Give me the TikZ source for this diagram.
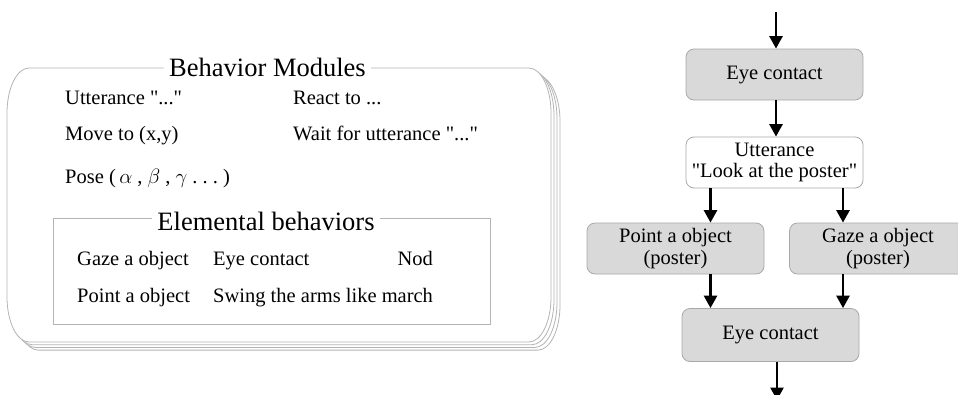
\documentclass[tikz,border=0pt]{standalone}
\usepackage{fontspec}
\setmainfont{Liberation Serif}
\usetikzlibrary{arrows.meta}
\definecolor{boxgray}{HTML}{D9D9D9}
\definecolor{edgegray}{HTML}{A8A8A8}
\definecolor{linegray}{HTML}{B4B4B4}
\newcommand{\dq}{\textquotedbl}
\begin{document}
\begin{tikzpicture}[x=1pt,y=-1pt,
  body/.style={font=\fontsize{20.5}{24}\selectfont, inner sep=0pt},
  boxtitle/.style={font=\fontsize{26.5}{30}\selectfont, fill=white, inner xsep=5pt, inner ysep=2pt},
  flowbox/.style={draw=edgegray, line width=0.8pt, rounded corners=8pt, fill=boxgray,
    minimum width=177pt, minimum height=51pt, align=center,
    font=\fontsize{20.5}{21.5}\selectfont, inner sep=0pt},
  plainbox/.style={flowbox, fill=white},
  flow/.style={line width=2.6pt, -{Triangle[width=13pt,length=12.5pt]}},
  stack/.style={draw=linegray, line width=0.8pt, fill=white},
  inner/.style={draw=linegray, line width=0.8pt},
]
\useasboundingbox (0,0) rectangle (958,394);
\clip (0,0) rectangle (958,394);

% stacked rounded panel (three copies behind, front last)
\foreach \k in {3,2,1,0}{
  \draw[stack, shift={(3*\k,2.7*\k)}]
    (29,68) -- (529,68)
    .. controls (541.15,68) and (551,88.15) .. (551,113)
    -- (551,297)
    .. controls (551,321.85) and (541.15,342) .. (529,342)
    -- (29,342)
    .. controls (16.85,342) and (7,321.85) .. (7,297)
    -- (7,113)
    .. controls (7,88.15) and (16.85,68) .. (29,68) -- cycle;
}
\node[boxtitle, anchor=base] (bm) at (267.5,76) {Behavior Modules};

\node[body, anchor=base west] (m1) at (65,104) {Utterance \dq...\dq};
\node[body, anchor=base west] (m2) at (293,104) {React to ...};
\node[body, anchor=base west] (m3) at (65,140) {Move to (x,y)};
\node[body, anchor=base west] (m4) at (293,140) {Wait for utterance \dq...\dq};
\node[body, anchor=base west] (m5) at (65,183) {Pose (\,$\alpha$\ ,\ $\beta$\ ,\ $\gamma$\ .\ .\ .\ )};

% elemental behaviors
\draw[inner] (53,218) rectangle (490,324);
\node[boxtitle, anchor=base] (eb) at (266,230) {Elemental behaviors};
\node[body, anchor=base west] (e1) at (77,265) {Gaze a object};
\node[body, anchor=base west] (e2) at (213,265) {Eye contact};
\node[body, anchor=base east] (e3) at (433,265) {Nod};
\node[body, anchor=base west] (e4) at (77,302) {Point a object};
\node[body, anchor=base west] (e5) at (213,302) {Swing the arms like march};

% flow chart
\node[flowbox] (c1) at (774.5,74.5) {Eye contact};
\node[plainbox] (u) at (774.5,162.5) {Utterance\\\dq Look at the poster\dq};
\node[flowbox] (p) at (675.5,248.5) {Point a object\\(poster)};
\node[flowbox] (g) at (878,248.5) {Gaze a object\\(poster)};
\node[flowbox, minimum height=53pt] (c2) at (770.5,335) {Eye contact};

\coordinate (in) at (776,12);
\coordinate (lx) at (710.5,0);
\coordinate (rx) at (843,0);
\coordinate (out) at (777,400);

\draw[flow] (in) -- (in |- c1.north);
\draw[flow] (c1.south -| in) -- (u.north -| in);
\draw[flow] (u.south -| lx) -- (p.north -| lx);
\draw[flow] (u.south -| rx) -- (g.north -| rx);
\draw[flow] (p.south -| lx) -- (c2.north -| lx);
\draw[flow] (g.south -| rx) -- (c2.north -| rx);
\draw[flow] (c2.south -| out) -- (out);
\end{tikzpicture}
\end{document}
